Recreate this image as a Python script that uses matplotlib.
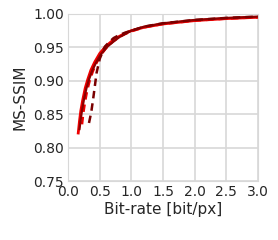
import matplotlib
matplotlib.use('Agg')
import matplotlib.pyplot as plt

# bright red, solid
rate_a = [0.16, 0.18, 0.20, 0.23, 0.27, 0.31, 0.36, 0.42, 0.50, 0.60, 0.70, 0.80, 0.90, 1.00, 1.20, 1.50, 2.00, 2.50, 3.00]
ssim_a = [0.822, 0.840, 0.855, 0.871, 0.889, 0.902, 0.916, 0.928, 0.941, 0.952, 0.960, 0.966, 0.971, 0.975, 0.980, 0.985, 0.990, 0.993, 0.995]
# dark red, solid
rate_b = [0.18, 0.20, 0.22, 0.25, 0.29, 0.33, 0.38, 0.44, 0.52, 0.62, 0.72, 0.82, 0.92, 1.00, 1.20, 1.50, 2.00, 2.50, 3.00]
ssim_b = [0.828, 0.843, 0.856, 0.872, 0.889, 0.902, 0.915, 0.927, 0.940, 0.951, 0.959, 0.966, 0.971, 0.975, 0.981, 0.986, 0.991, 0.994, 0.996]
# red, dashed
rate_c = [0.22, 0.24, 0.27, 0.30, 0.34, 0.39, 0.45, 0.52, 0.60, 0.70, 0.80, 0.90, 1.00, 1.20, 1.50, 2.00, 2.50, 3.00]
ssim_c = [0.835, 0.852, 0.870, 0.885, 0.900, 0.914, 0.927, 0.939, 0.949, 0.958, 0.965, 0.970, 0.974, 0.980, 0.985, 0.990, 0.993, 0.995]
# dark red, dashed
rate_d = [0.33, 0.35, 0.37, 0.40, 0.45, 0.50, 0.58, 0.65, 0.72, 0.80, 0.90, 1.00, 1.20, 1.50, 2.00, 2.50, 3.00]
ssim_d = [0.837, 0.846, 0.856, 0.876, 0.912, 0.933, 0.951, 0.958, 0.964, 0.968, 0.972, 0.975, 0.981, 0.986, 0.991, 0.994, 0.996]

plt.rcParams['font.family'] = ['DejaVu Sans']
fig, ax = plt.subplots(figsize=(2.78, 2.4), dpi=100)
ax.plot(rate_c, ssim_c, color='#ee0000', lw=1.8, ls='--', dashes=(3, 2))
ax.plot(rate_a, ssim_a, color='#ee0000', lw=2.0)
ax.plot(rate_b, ssim_b, color='#8b0000', lw=1.6)
ax.plot(rate_d, ssim_d, color='#7a0000', lw=1.8, ls='--', dashes=(3, 2))

ax.set_xlim(0, 3)
ax.set_ylim(0.75, 1.0)
ax.set_xticks([0.0, 0.5, 1.0, 1.5, 2.0, 2.5, 3.0])
ax.set_yticks([0.75, 0.80, 0.85, 0.90, 0.95, 1.00])
ax.grid(True, color='#d8d8d8', lw=1.2)
ax.set_axisbelow(True)
for s in ax.spines.values():
    s.set_color('#d8d8d8')
ax.tick_params(length=0, labelsize=10, colors='#262626', pad=3)
ax.set_xlabel('Bit-rate [bit/px]', fontsize=11, color='#262626', labelpad=2)
ax.set_ylabel('MS-SSIM', fontsize=11, color='#262626')
fig.subplots_adjust(left=0.245, right=0.928, top=0.942, bottom=0.245)
fig.savefig('out.png')
